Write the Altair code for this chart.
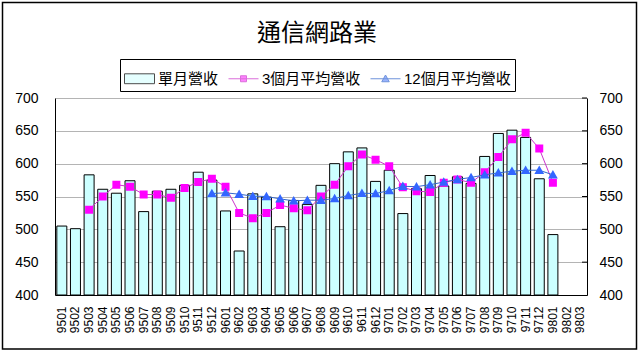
import altair as alt
import pandas as pd

months = ["9501", "9502", "9503", "9504", "9505", "9506", "9507", "9508", "9509", "9510", "9511", "9512",
          "9601", "9602", "9603", "9604", "9605", "9606", "9607", "9608", "9609", "9610", "9611", "9612",
          "9701", "9702", "9703", "9704", "9705", "9706", "9707", "9708", "9709", "9710", "9711", "9712",
          "9801", "9802", "9803"]

monthly = [505, 501, 583, 561, 555, 574, 527, 558, 561, 567, 587, 575,
           528, 467, 554, 549, 504, 544, 538, 567, 600, 618, 624, 573,
           590, 524, 562, 582, 566, 580, 570, 611, 646, 651, 640, 577,
           492, None, None]

avg3 = [None, None, 530, 550, 568, 565, 553, 553, 548, 563, 572, 577,
        565, 525, 517, 525, 537, 532, 529, 550, 568, 596, 614, 606,
        596, 564, 558, 557, 571, 576, 571, 587, 610, 637, 647, 623,
        571, None, None]

avg12 = [None, None, None, None, None, None, None, None, None, None, None, 554.5,
         555.6, 553.5, 550.5, 550, 546.4, 543.4, 544.4, 544.4, 547, 551.5, 555, 554.5,
         559, 565.5, 565, 568, 572, 576, 579, 583, 586, 588.5, 590, 590,
         583, None, None]

title_text = "通信網路業"
series_names = ["單月營收", "3個月平均營收", "12個月平均營收"]
y_ticks = [400, 450, 500, 550, 600, 650, 700]

df = pd.DataFrame({"month": months, "monthly": monthly, "avg3": avg3, "avg12": avg12})
tick_df = pd.DataFrame({"t": y_ticks[1:]})
leg_df = pd.DataFrame({"series": series_names})
frame_df = pd.DataFrame({"k": [0]})
title_df = pd.DataFrame({"title": [title_text]})

CJK = "Noto Sans CJK TC"
LAT = "Liberation Sans"
MIX = "Liberation Sans, Noto Sans CJK TC, sans-serif"

yscale = alt.Scale(domain=[400, 700], nice=False, zero=False)
xscale = alt.Scale(domain=months, paddingInner=0.267, paddingOuter=0.133)

x_enc = alt.X("month:O", sort=months, scale=xscale,
              axis=alt.Axis(title=None, labelAngle=270, labelFont=LAT, labelFontSize=12,
                            labelColor="black", ticks=False, labelPadding=11,
                            domainColor="black", domainWidth=1, grid=False))

left_axis = alt.Axis(title=None, orient="left", values=y_ticks, grid=True, gridColor="#b4b4b4",
                     gridWidth=1, domain=True, domainColor="black", ticks=False,
                     labelPadding=17, labelFont=LAT, labelFontSize=14, labelColor="black")
right_axis = alt.Axis(title=None, orient="right", values=y_ticks, grid=False, domain=True,
                      domainColor="black", ticks=False, labelPadding=12, labelFont=LAT,
                      labelFontSize=14, labelColor="black")

frame = alt.Chart(frame_df).mark_rect(fill="transparent", stroke="black", strokeWidth=1.5).encode(
    x=alt.value(-52.5), x2=alt.value(581.5), y=alt.value(-95.5), y2=alt.value(251)
)

title = alt.Chart(title_df).mark_text(font=CJK, fontSize=24, color="black", align="center",
                                       baseline="middle").encode(
    text="title:N", x=alt.value(262), y=alt.value(-64)
)

bars = alt.Chart(df).mark_bar(fill="#ccffff", stroke="black", strokeWidth=1).encode(
    x=x_enc,
    y=alt.Y("monthly:Q", scale=yscale, axis=left_axis),
    y2=alt.datum(400),
)

line3 = alt.Chart(df).mark_line(
    color="#cc33cc", strokeWidth=1,
    point=alt.OverlayMarkDef(shape="square", size=36, fill="#ff00ff", stroke="#ff00ff", filled=True),
).encode(x=x_enc, y=alt.Y("avg3:Q", scale=yscale, axis=None))

line12 = alt.Chart(df).mark_line(
    color="#3366cc", strokeWidth=1,
    point=alt.OverlayMarkDef(shape="triangle-up", size=40, fill="#3366ff", stroke="#3366ff", filled=True),
).encode(x=x_enc, y=alt.Y("avg12:Q", scale=yscale, axis=None))

ticks_r = alt.Chart(tick_df).mark_rule(color="black", strokeWidth=1).encode(
    y=alt.Y("t:Q", scale=yscale, axis=right_axis),
    x=alt.value(527), x2=alt.value(532),
)

p_bar = "M-1,-0.33H1V0.33H-1Z"
p_sq = "M-1,0H1M-0.2,-0.2H0.2V0.2H-0.2Z"
p_tri = "M-1,0H1M0,-0.25L0.25,0.2H-0.25Z"

leg = alt.Legend(title=None, orient="none", legendX=65, legendY=-39, direction="horizontal")
legend_layer = alt.Chart(leg_df).mark_point(filled=True).encode(
    fill=alt.Fill("series:N", scale=alt.Scale(domain=series_names, range=["#ccffff", "#ff00ff", "#3366ff"]), legend=leg),
    stroke=alt.Stroke("series:N", scale=alt.Scale(domain=series_names, range=["black", "#cc33cc", "#3366cc"]), legend=leg),
    shape=alt.Shape("series:N", scale=alt.Scale(domain=series_names, range=[p_bar, p_sq, p_tri]), legend=leg),
).transform_filter("datum.series == 'none'")

chart = alt.layer(frame, title, bars, line3, line12, ticks_r, legend_layer).resolve_axis(y="independent").properties(
    width=532, height=197,
    autosize=alt.AutoSizeParams(type="none"),
    padding={"left": 55, "top": 98, "right": 53, "bottom": 58},
    background="white",
).configure_view(stroke=None).configure_legend(
    symbolSize=900, symbolStrokeWidth=1, labelFont=MIX, labelFontSize=15, labelColor="black",
    strokeColor="black", fillColor="white", padding=4, columnPadding=7, labelOffset=3,
)

chart.save("out.html", embed_options={"renderer": "svg", "actions": False})
